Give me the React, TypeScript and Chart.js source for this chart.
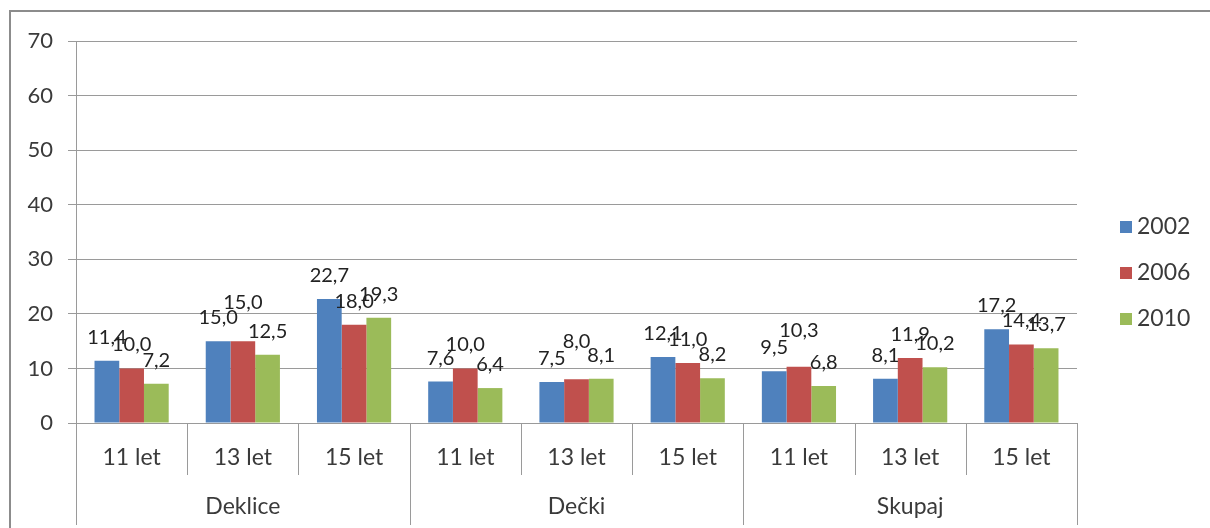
import React, { useEffect, useRef } from "react";
import { Chart, registerables } from "chart.js";

Chart.register(...registerables);

const groups = ["Deklice", "Dečki", "Skupaj"];
const ages = ["11 let", "13 let", "15 let"];
const seriesNames = ["2002", "2006", "2010"];
const values2002 = [11.4, 15.0, 22.7, 7.6, 7.5, 12.1, 9.5, 8.1, 17.2];
const values2006 = [10.0, 15.0, 18.0, 10.0, 8.0, 11.0, 10.3, 11.9, 14.4];
const values2010 = [7.2, 12.5, 19.3, 6.4, 8.1, 8.2, 6.8, 10.2, 13.7];
const yTicks = [0, 10, 20, 30, 40, 50, 60, 70];

const colors = ["#4F81BD", "#C0504D", "#9BBB59"];
// extra upward shift (px) of a few labels, as in the reference (dataset-index)
const labelLift: Record<string, number> = { "1-1": 15, "1-4": 14, "1-6": 13 };

const FONT = "Lato, 'Liberation Sans', sans-serif";
const GRID = "#9a9a9a";
const AXIS_TEXT = "#3a3a3a";

const categories = groups.flatMap(() => ages);

const fmt = (v: number) => v.toFixed(1).replace(".", ",");

const decorPlugin = {
  id: "decor",
  beforeDraw(chart: any) {
    const ctx = chart.ctx;
    ctx.save();
    ctx.fillStyle = "#ffffff";
    ctx.fillRect(0, 0, chart.width, chart.height);
    ctx.strokeStyle = "#8c8c8c";
    ctx.lineWidth = 2;
    ctx.strokeRect(10, 11, chart.width + 20, chart.height + 20);
    ctx.restore();
  },
  afterDraw(chart: any) {
    const ctx = chart.ctx;
    const area = chart.chartArea;
    const x = chart.scales.x;
    const n = categories.length;
    const catW = (area.right - area.left) / n;
    ctx.save();
    ctx.strokeStyle = GRID;
    ctx.lineWidth = 1;
    for (let i = 0; i <= n; i++) {
      const px = Math.round(area.left + i * catW) + 0.5;
      const isGroup = i % ages.length === 0;
      ctx.beginPath();
      ctx.moveTo(px, area.bottom);
      ctx.lineTo(px, isGroup ? 525 : 475);
      ctx.stroke();
    }
    ctx.fillStyle = AXIS_TEXT;
    ctx.font = `23px ${FONT}`;
    ctx.textAlign = "center";
    ctx.textBaseline = "middle";
    for (let i = 0; i < n; i++) {
      const cx = x.getPixelForValue(i);
      ctx.fillText(categories[i], cx, 458);
    }
    groups.forEach((g, gi) => {
      const cx = area.left + (gi * ages.length + ages.length / 2) * catW;
      ctx.fillText(g, cx, 507);
    });
    const legendY = [227, 273, 319];
    chart.data.datasets.forEach((ds: any, di: number) => {
      ctx.fillStyle = ds.backgroundColor;
      ctx.fillRect(1120, legendY[di] - 6, 12, 12);
      ctx.fillStyle = AXIS_TEXT;
      ctx.textAlign = "left";
      ctx.textBaseline = "middle";
      ctx.font = `23px ${FONT}`;
      ctx.fillText(ds.label, 1137, legendY[di]);
    });
    ctx.restore();
  },
  afterDatasetsDraw(chart: any) {
    const ctx = chart.ctx;
    ctx.save();
    ctx.fillStyle = "#222222";
    ctx.font = `20px ${FONT}`;
    ctx.textAlign = "center";
    ctx.textBaseline = "alphabetic";
    chart.data.datasets.forEach((ds: any, di: number) => {
      const meta = chart.getDatasetMeta(di);
      meta.data.forEach((el: any, i: number) => {
        const lift = labelLift[`${di}-${i}`] || 0;
        ctx.fillText(fmt(ds.data[i]), el.x, el.y - 17 - lift);
      });
    });
    ctx.restore();
  },
};

export default function App() {
  const ref = useRef<HTMLCanvasElement>(null);
  useEffect(() => {
    if (!ref.current) return;
    const chart = new Chart(ref.current, {
      type: "bar",
      data: {
        labels: categories,
        datasets: [values2002, values2006, values2010].map((vals, i) => ({
          label: seriesNames[i],
          data: vals,
          backgroundColor: colors[i],
          borderWidth: 0,
          categoryPercentage: 0.667,
          barPercentage: 1.0,
        })),
      },
      options: {
        animation: false,
        responsive: false,
        devicePixelRatio: 1,
        layout: { padding: { left: 0, top: 41, right: 133, bottom: 0 } },
        plugins: { legend: { display: false }, tooltip: { enabled: false } },
        scales: {
          x: {
            type: "category",
            ticks: { display: false },
            grid: { display: false },
            border: { display: false },
            afterFit: (s: any) => {
              s.height = 105;
            },
          },
          y: {
            min: 0,
            max: 70,
            afterBuildTicks: (s: any) => {
              s.ticks = yTicks.map((v) => ({ value: v }));
            },
            ticks: {
              color: AXIS_TEXT,
              font: { family: FONT, size: 22 },
              padding: 15,
            },
            grid: { color: GRID, tickLength: 8, drawTicks: true },
            border: { display: true, color: GRID },
            afterFit: (s: any) => {
              s.width = 76;
            },
          },
        },
      },
      plugins: [decorPlugin],
    });
    return () => chart.destroy();
  }, []);
  return (
    <div style={{ position: "fixed", left: 0, top: 0, width: 1210, height: 528, background: "#fff" }}>
      <canvas ref={ref} width={1210} height={528} style={{ width: 1210, height: 528, display: "block" }} />
    </div>
  );
}
